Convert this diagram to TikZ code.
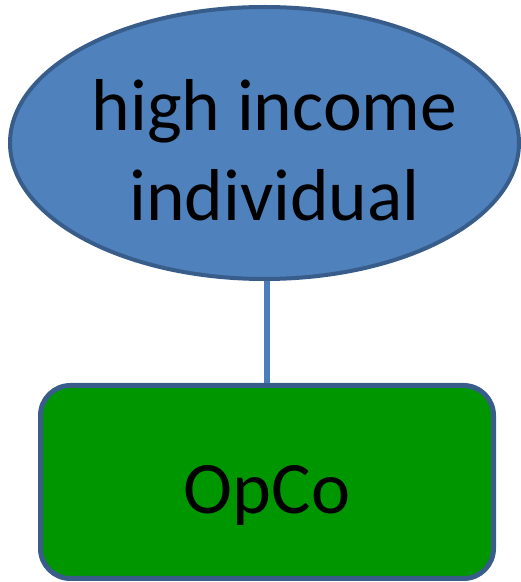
\documentclass[tikz,border=0pt]{standalone}
\usepackage{fontspec}
\setmainfont{Carlito}
\usetikzlibrary{shapes.geometric}
\definecolor{ellfill}{RGB}{79,129,189}
\definecolor{edgeblue}{RGB}{56,93,138}
\definecolor{linkblue}{RGB}{74,126,187}
\definecolor{boxgreen}{RGB}{0,150,0}
% left indent that pushes the ellipse text slightly right of centre
\newcommand{\lead}{\hspace*{20pt}}
\tikzset{
  person/.style={ellipse, draw=edgeblue, fill=ellfill, line width=4pt,
    minimum width=509pt, minimum height=272pt, inner xsep=-25pt, inner ysep=0pt,
    align=center, text height=156pt, text depth=0pt,
    font=\fontsize{73.5}{90}\selectfont},
  company/.style={rectangle, rounded corners=30pt, draw=edgeblue, fill=boxgreen,
    line width=5pt, minimum width=453pt, minimum height=193pt, inner sep=0pt,
    text height=64pt, text depth=0pt,
    font=\fontsize{74}{90}\selectfont},
  link/.style={draw=linkblue, line width=6pt}
}
\begin{document}
\begin{tikzpicture}[x=1pt,y=1pt]
  \useasboundingbox (0,0) rectangle (521,582);
  \node[person] (hni) at (264.5,439) {\lead high income\\\lead individual};
  \node[company] (opco) at (267,100) {OpCo};
  \draw[link] (hni.south -| opco.north) -- (opco.north);
\end{tikzpicture}
\end{document}
